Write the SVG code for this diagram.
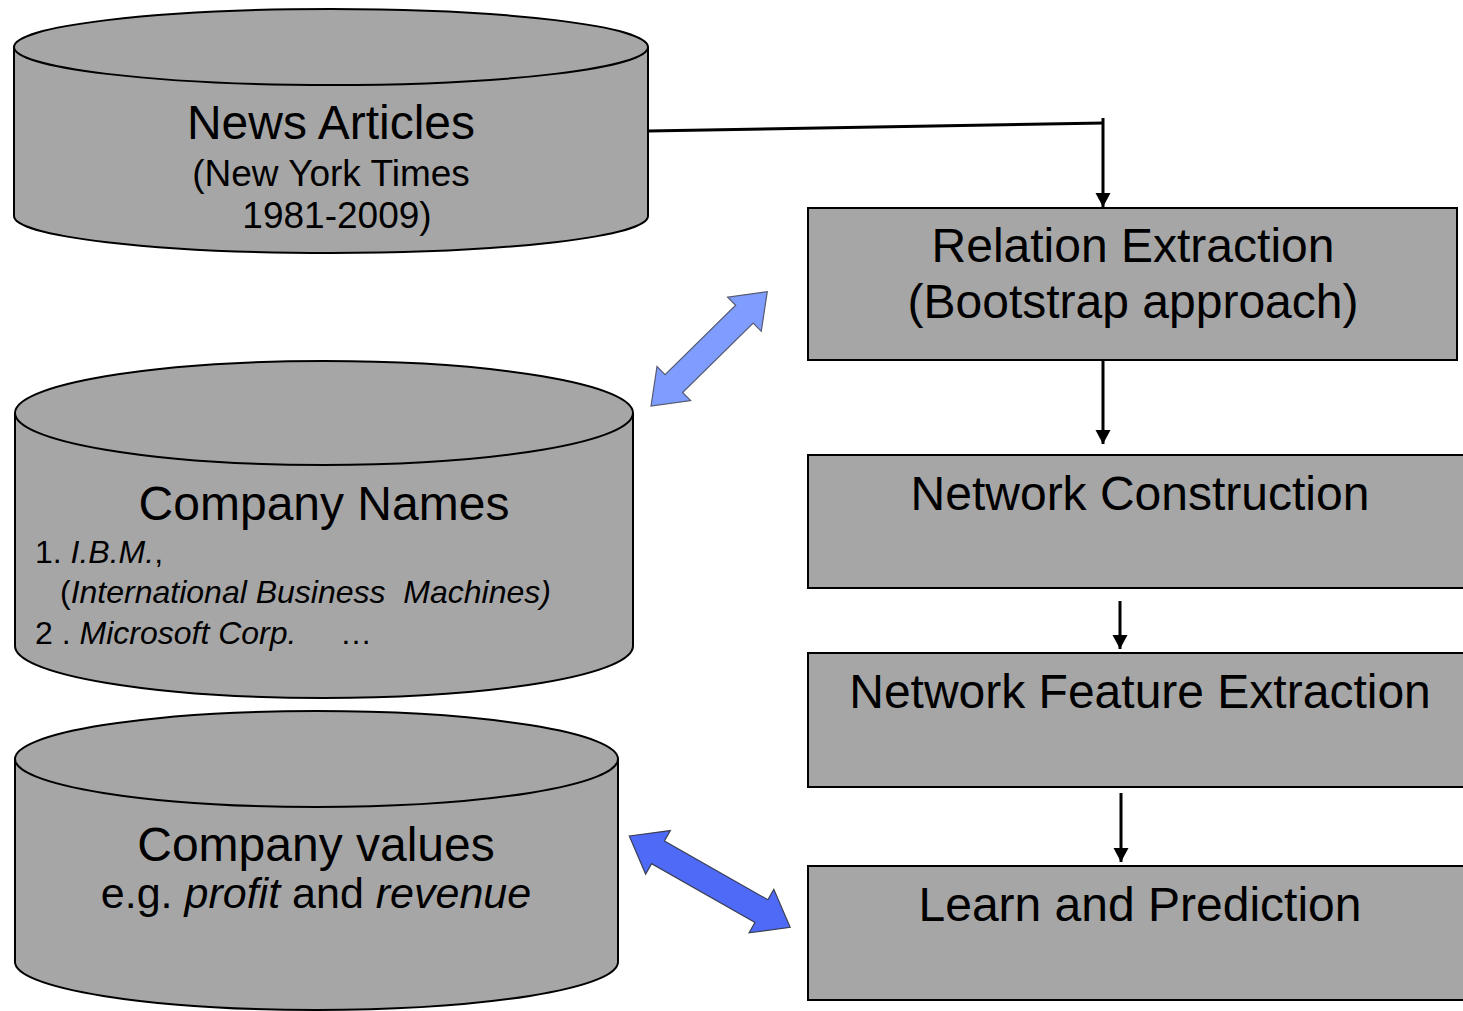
<svg xmlns="http://www.w3.org/2000/svg" width="1463" height="1011" viewBox="0 0 1463 1011">
<style>
.bg{fill:#ffffff}
.cyl{fill:#a6a6a6;stroke:#000;stroke-width:2}
.box{fill:#a6a6a6;stroke:#000;stroke-width:2}
.t{font-family:"Liberation Sans",Arial,sans-serif;fill:#000}
.big{font-size:48px;text-anchor:middle}
.mid{font-size:37px;text-anchor:middle}
.sm{font-size:32px}
.it{font-style:italic}
.con{fill:none;stroke:#000;stroke-width:3}
.blk1{fill:#7f9cff;stroke:#555a70;stroke-width:1.2}
.blk2{fill:#4f6af7;stroke:#3a3f55;stroke-width:1.2}
</style>
<defs>
<marker id="ah" markerUnits="userSpaceOnUse" markerWidth="16" markerHeight="16" refX="14" refY="7.5" orient="auto">
<path d="M0,0 L14,7.5 L0,15 Z" fill="#000"/>
</marker>
</defs>
<rect class="bg" x="0" y="0" width="1463" height="1011"/>

<g id="news-articles">
<path class="cyl" d="M14,47 A317,38 0 0 1 648,47 L648,216 A317,37 0 0 1 14,216 Z"/>
<path class="cyl" d="M14,47 A317,38 0 0 0 648,47"/>
<text class="t big" x="331" y="139">News Articles</text>
<text class="t mid" x="331" y="186">(New York Times</text>
<text class="t mid" x="337" y="228">1981-2009)</text>
</g>

<g id="company-names">
<path class="cyl" d="M15,413 A309,52 0 0 1 633,413 L633,646 A309,52 0 0 1 15,646 Z"/>
<path class="cyl" d="M15,413 A309,52 0 0 0 633,413"/>
<text class="t big" x="324" y="520">Company Names</text>
<text class="t sm" x="35" y="563">1. <tspan class="it">I.B.M.</tspan>,</text>
<text class="t sm" x="60" y="603" xml:space="preserve">(<tspan class="it">International Business  Machines)</tspan></text>
<text class="t sm" x="35" y="644">2 . <tspan class="it">Microsoft Corp.</tspan><tspan x="340">…</tspan></text>
</g>

<g id="company-values">
<path class="cyl" d="M15,759 A301.5,48 0 0 1 618,759 L618,962 A301.5,48 0 0 1 15,962 Z"/>
<path class="cyl" d="M15,759 A301.5,48 0 0 0 618,759"/>
<text class="t big" x="316" y="861">Company values</text>
<text class="t" x="316" y="908" style="font-size:43px;text-anchor:middle">e.g. <tspan class="it">profit</tspan> and <tspan class="it">revenue</tspan></text>
</g>

<g id="relation-extraction">
<rect class="box" x="808" y="208" width="649" height="152"/>
<text class="t big" x="1133" y="262">Relation Extraction</text>
<text class="t big" x="1133" y="318">(Bootstrap approach)</text>
</g>

<g id="network-construction">
<rect class="box" x="808" y="455" width="670" height="133"/>
<text class="t big" x="1140" y="510">Network Construction</text>
</g>

<g id="network-feature-extraction">
<rect class="box" x="808" y="653" width="670" height="134"/>
<text class="t big" x="1140" y="708">Network Feature Extraction</text>
</g>

<g id="learn-prediction">
<rect class="box" x="808" y="866" width="670" height="134"/>
<text class="t big" x="1140" y="921">Learn and Prediction</text>
</g>

<g id="connectors">
<path class="con" d="M648,131 L1104,123"/>
<path class="con" d="M1103,118 L1103,207" marker-end="url(#ah)"/>
<path class="con" d="M1103,360 L1103,444" marker-end="url(#ah)"/>
<path class="con" d="M1120,601 L1120,649" marker-end="url(#ah)"/>
<path class="con" d="M1121,793 L1121,862" marker-end="url(#ah)"/>
<polygon class="blk1" transform="translate(651,406) rotate(-44.5)" points="0,0 32,-24 32,-12.5 131,-12.5 131,-24 163,0 131,24 131,12.5 32,12.5 32,24"/>
<polygon class="blk2" transform="translate(629.3,836) rotate(29.6)" points="0,0 33,-25 33,-13 152,-13 152,-25 185,0 152,25 152,13 33,13 33,25"/>
</g>
</svg>
